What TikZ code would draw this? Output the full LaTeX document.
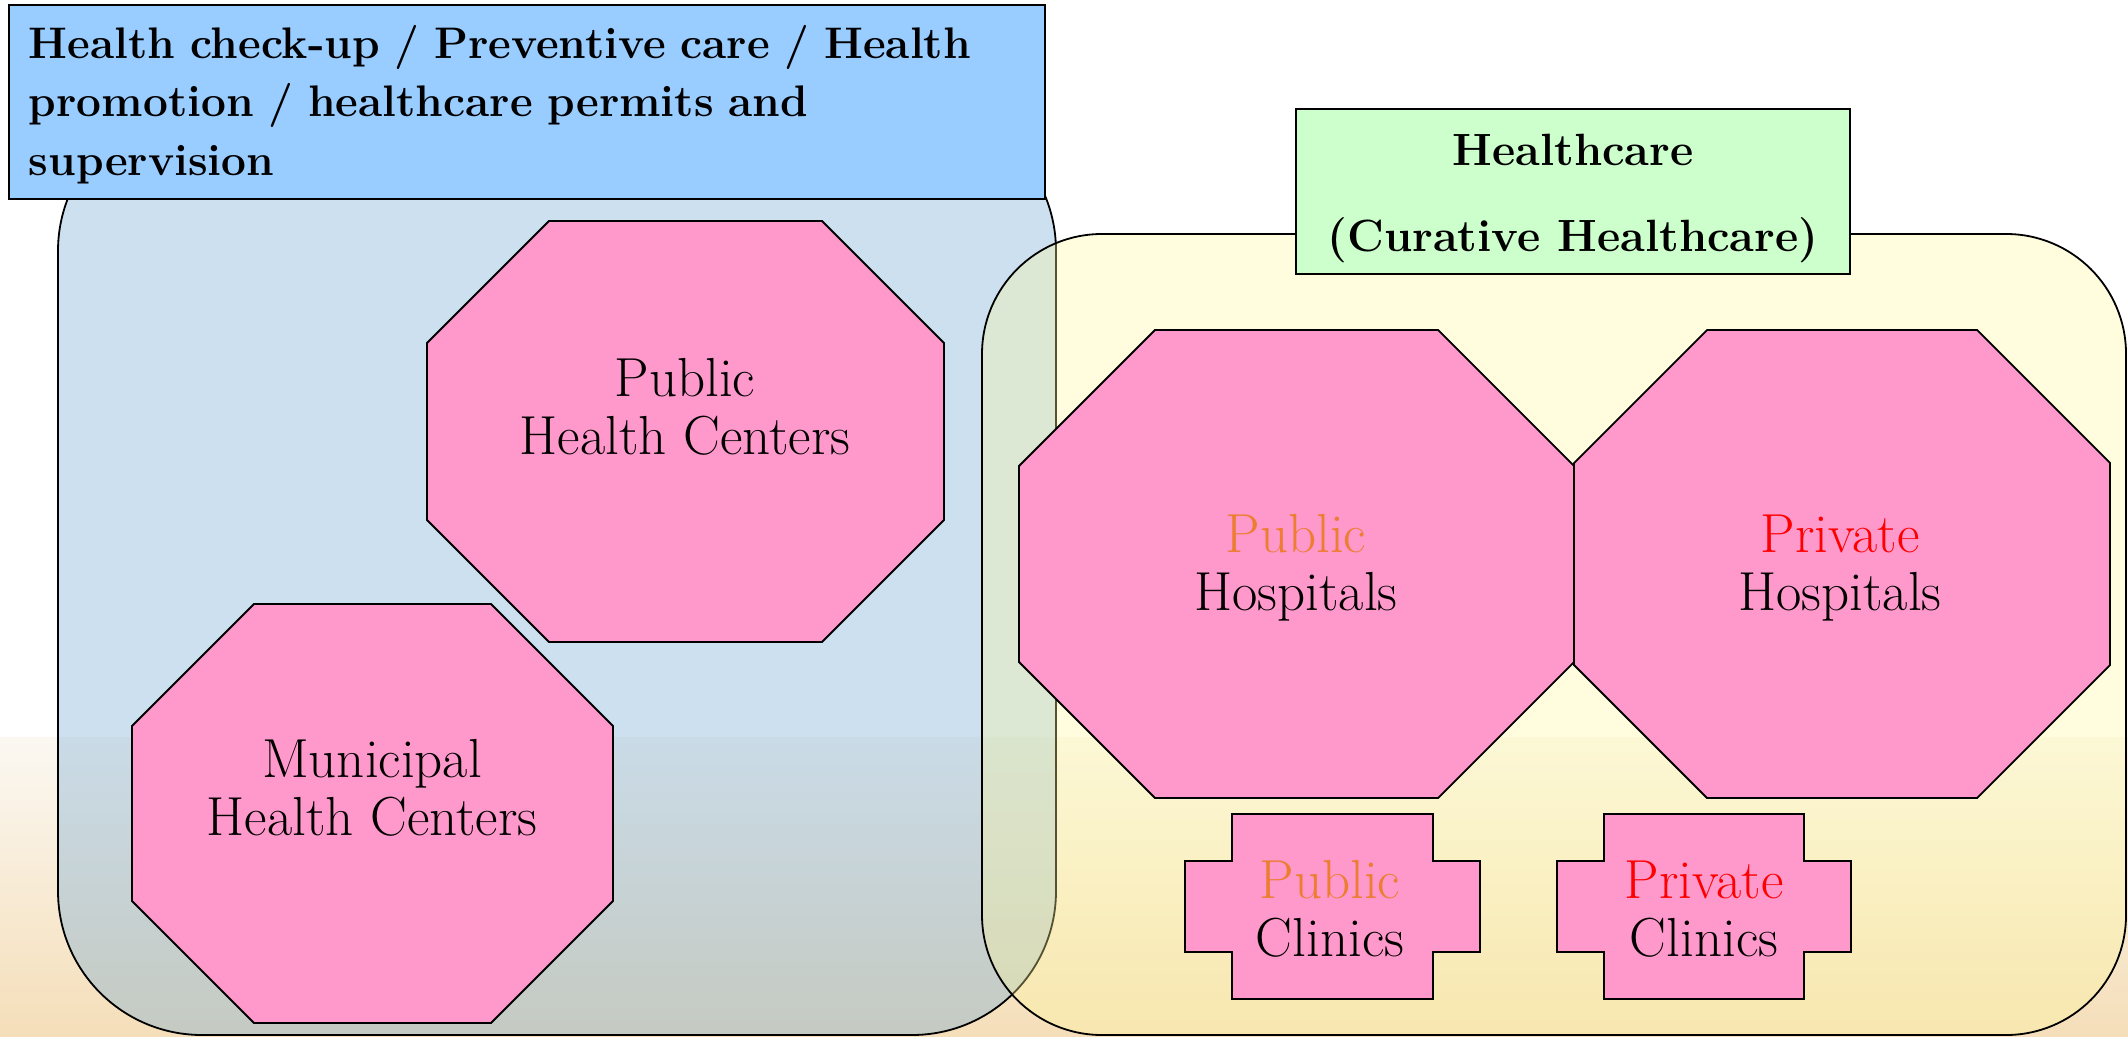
\documentclass[tikz,border=0pt]{standalone}
\usepackage{tikz}
\definecolor{hdrblue}{RGB}{153,204,255}
\definecolor{curegreen}{RGB}{204,255,204}
\definecolor{octpink}{RGB}{255,153,204}
\definecolor{regblue}{RGB}{110,166,212}
\definecolor{regyellow}{RGB}{255,250,155}
\definecolor{puborange}{RGB}{237,125,49}
\tikzstyle{octa} = [draw, fill=octpink, line width=0.9pt]
\tikzstyle{lbl} = [align=center, inner sep=0pt, font=\fontsize{27.5}{29}\selectfont]
\tikzstyle{hdrbox} = [draw, line width=0.9pt, inner ysep=0pt,
    font=\bfseries\fontsize{22.1}{29.2}\selectfont]
\tikzstyle{region} = [draw, line width=0.9pt, fill opacity=0.35]
% chamfered box: x1, y1, x2, y2, cut
\newcommand{\chamf}[5]{\path[octa] (#1+#5,#2) -- (#3-#5,#2) -- (#3,#2+#5) --
  (#3,#4-#5) -- (#3-#5,#4) -- (#1+#5,#4) -- (#1,#4-#5) -- (#1,#2+#5) -- cycle;}
% plus-like box: x1, y1, x2, y2, notch
\newcommand{\clinic}[5]{\path[octa] (#1+#5,#2) -- (#3-#5,#2) -- (#3-#5,#2+#5) --
  (#3,#2+#5) -- (#3,#4-#5) -- (#3-#5,#4-#5) -- (#3-#5,#4) -- (#1+#5,#4) --
  (#1+#5,#4-#5) -- (#1,#4-#5) -- (#1,#2+#5) -- (#1+#5,#2+#5) -- cycle;}

\begin{document}
\begin{tikzpicture}[x=0.5pt, y=-0.5pt]
  \useasboundingbox (0,0) rectangle (2128,1037);
  % backdrop
  \shade[top color={rgb,255:red,251;green,248;blue,242}, middle color={rgb,255:red,248;green,240;blue,200},
    bottom color={rgb,255:red,245;green,222;blue,185}] (0,737) rectangle (2128,1037);
  % two areas
  \draw[region, fill=regblue, rounded corners=72pt] (58,107) rectangle (1056,1035);
  \draw[region, fill=regyellow, fill opacity=0.33, rounded corners=60pt] (982,234) rectangle (2126,1035);
  % headings
  \node [hdrbox, fill=hdrblue, anchor=north west, inner xsep=10pt, text width=498pt,
    minimum height=97pt, align=left] (prev) at (8,4)
  {\rule{0pt}{19pt}Health check-up / Preventive care / Health\\
   promotion / healthcare permits and\\
   supervision};
  \node [hdrbox, fill=curegreen, minimum width=277pt, minimum height=82.5pt, align=center,
    font=\bfseries\fontsize{22.6}{43}\selectfont] (cure) at (1573,191.5)
  {\rule{0pt}{23pt}Healthcare\\(Curative Healthcare)};
  % shapes
  \chamf{427}{221}{944}{642}{122}
  \chamf{132}{604}{613}{1023}{122}
  \chamf{1019}{330}{1574}{798}{136}
  \chamf{1574}{330}{2110}{798}{133}
  \clinic{1185}{814}{1480}{999}{47}
  \clinic{1557}{814}{1851}{999}{47}
  % Place nodes
  \node [lbl] (phc) at (685,407) {Public\\Health Centers};
  \node [lbl] (mhc) at (372,788) {Municipal\\Health Centers};
  \node [lbl] (pubh) at (1296,568) {{\color{puborange}Public}\\Hospitals};
  \node [lbl] (privh) at (1840,568) {{\color{red}Private}\\Hospitals};
  \node [lbl] (pubc) at (1330,909) {{\color{puborange}Public}\\Clinics};
  \node [lbl] (privc) at (1704,909) {{\color{red}Private}\\Clinics};
\end{tikzpicture}
\end{document}
